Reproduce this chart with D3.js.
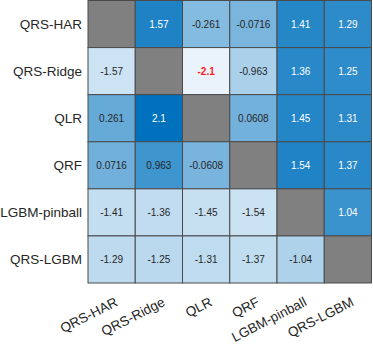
<!DOCTYPE html>
<html>
<head>
<meta charset="utf-8">
<script src="https://cdn.jsdelivr.net/npm/d3@7"></script>
<style>
  body { margin: 0; background: #fff; }
  svg { display: block; font-family: "Liberation Sans", Arial, Helvetica, sans-serif; }
</style>
</head>
<body>
<div id="chart"></div>
<script>
// Model names (rows and columns)
const models = ["QRS-HAR", "QRS-Ridge", "QLR", "QRF", "LGBM-pinball", "QRS-LGBM"];

// Statistic matrix, one array per row (null on the diagonal)
const rowQRSHAR   = [null, 1.57, -0.261, -0.0716, 1.41, 1.29];
const rowQRSRidge = [-1.57, null, -2.1, -0.963, 1.36, 1.25];
const rowQLR      = [0.261, 2.1, null, 0.0608, 1.45, 1.31];
const rowQRF      = [0.0716, 0.963, -0.0608, null, 1.54, 1.37];
const rowLGBMpin  = [-1.41, -1.36, -1.45, -1.54, null, 1.04];
const rowQRSLGBM  = [-1.29, -1.25, -1.31, -1.37, -1.04, null];
const rows = [rowQRSHAR, rowQRSRidge, rowQLR, rowQRF, rowLGBMpin, rowQRSLGBM];

const width = 373;
const height = 344;
const margin = { top: 0.5, right: 1.5, bottom: 61, left: 88 };

const svg = d3.select("#chart").append("svg")
    .attr("width", width)
    .attr("height", height);

const x = d3.scaleBand().domain(models).range([margin.left, width - margin.right]);
const y = d3.scaleBand().domain(models).range([margin.top, height - margin.bottom]);

const color = d3.scaleLinear()
    .domain([-2.1, 2.1])
    .range(["#eaf3fb", "#0072bd"])
    .interpolate(d3.interpolateRgb);

// flatten into cells
const cells = [];
rows.forEach((r, i) => r.forEach((v, j) => cells.push({ row: models[i], col: models[j], value: v })));
const minVal = d3.min(cells, d => d.value);

svg.selectAll("rect.cell")
    .data(cells)
    .enter().append("rect")
    .attr("class", "cell")
    .attr("x", d => x(d.col))
    .attr("y", d => y(d.row))
    .attr("width", x.bandwidth())
    .attr("height", y.bandwidth())
    .attr("fill", d => d.value === null ? "#808080" : color(d.value))
    .attr("stroke", "#4a4a4a")
    .attr("stroke-width", 1);

svg.selectAll("text.val")
    .data(cells.filter(d => d.value !== null))
    .enter().append("text")
    .attr("class", "val")
    .attr("x", d => x(d.col) + x.bandwidth() / 2)
    .attr("y", d => y(d.row) + y.bandwidth() / 2)
    .attr("dy", "0.35em")
    .attr("text-anchor", "middle")
    .attr("font-size", "10px")
    .attr("font-weight", d => d.value === minVal ? "bold" : "normal")
    .attr("fill", d => d.value === minVal ? "#ff1a1a" : (d.value > 1 ? "#ffffff" : "#262626"))
    .text(d => d.value);

// row labels
svg.selectAll("text.ylab")
    .data(models)
    .enter().append("text")
    .attr("class", "ylab")
    .attr("x", margin.left - 6)
    .attr("y", d => y(d) + y.bandwidth() / 2)
    .attr("dy", "0.35em")
    .attr("text-anchor", "end")
    .attr("font-size", "13.5px")
    .attr("fill", "#262626")
    .text(d => d);

// column labels, rotated
svg.selectAll("text.xlab")
    .data(models)
    .enter().append("text")
    .attr("class", "xlab")
    .attr("text-anchor", "end")
    .attr("font-size", "13.5px")
    .attr("fill", "#262626")
    .attr("transform", d => `translate(${x(d) + x.bandwidth() / 2 + 7},${height - margin.bottom + 22}) rotate(-27)`)
    .text(d => d);
</script>
</body>
</html>
